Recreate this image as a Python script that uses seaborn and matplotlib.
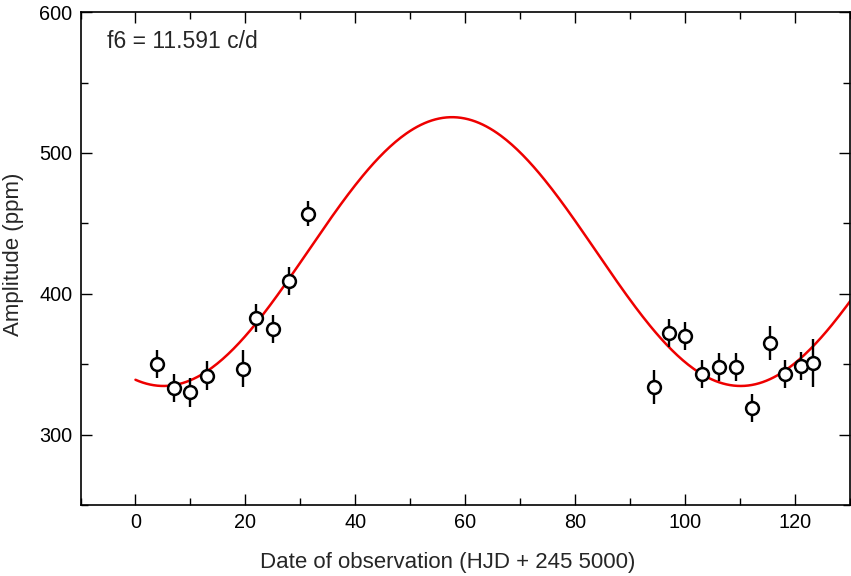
import numpy as np
import pandas as pd
import matplotlib
matplotlib.use("Agg")
import matplotlib.pyplot as plt
import seaborn as sns
from matplotlib.ticker import MultipleLocator

# observed amplitudes of f6
date = [4.0, 7.0, 9.9, 13.0, 19.6, 21.9, 25.0, 27.9, 31.4,
        94.4, 97.1, 100.0, 103.1, 106.1, 109.2, 112.1, 115.4, 118.1, 121.0, 123.2]
amp = [350, 333, 330, 342, 347, 383, 375, 409, 457,
       334, 372, 370, 343, 348, 348, 319, 365, 343, 349, 351]
err = [10, 10, 10, 10, 13, 10, 10, 10, 9,
       12, 10, 10, 10, 10, 10, 10, 12, 10, 10, 17]

# sinusoidal fit
fit_mean = 430.0
fit_amp = 95.4
fit_period = 105.0
fit_tmax = 57.6

df = pd.DataFrame({"date": date, "amp": amp, "err": err})
t = np.linspace(0, 132, 400)
fit = pd.DataFrame({"date": t,
                    "amp": fit_mean + fit_amp * np.cos(2 * np.pi * (t - fit_tmax) / fit_period)})

sns.set_theme(style="ticks")
plt.rcParams["font.family"] = ["Liberation Sans", "DejaVu Sans"]

fig, ax = plt.subplots(figsize=(8.51, 5.76), dpi=100)
fig.subplots_adjust(left=0.0946, right=0.9988, top=0.979, bottom=0.123)

sns.lineplot(data=fit, x="date", y="amp", ax=ax, color="#ee0000", linewidth=1.8, zorder=2)
ax.errorbar(df.date, df.amp, yerr=df.err, fmt="none", ecolor="black", elinewidth=1.7, capsize=0, zorder=3)
sns.scatterplot(data=df, x="date", y="amp", ax=ax, marker="o", s=85, facecolor="white",
                edgecolor="black", linewidth=1.8, zorder=4)

ax.set_xlim(-10, 130)
ax.set_ylim(250, 600)
ax.xaxis.set_major_locator(MultipleLocator(20))
ax.xaxis.set_minor_locator(MultipleLocator(10))
ax.yaxis.set_major_locator(MultipleLocator(100))
ax.yaxis.set_minor_locator(MultipleLocator(50))
ax.tick_params(which="both", direction="in", top=True, right=True, labelsize=14.3,
               colors="black", width=1)
ax.tick_params(which="major", length=8, pad=6)
ax.tick_params(which="minor", length=5)
for s in ax.spines.values():
    s.set_linewidth(1.2)
    s.set_color("black")

ax.set_xlabel("Date of observation (HJD + 245 5000)", fontsize=16)
ax.xaxis.set_label_coords(0.477, -0.095)
ax.set_ylabel("Amplitude (ppm)", fontsize=16)
ax.yaxis.set_label_coords(-0.073, 0.509)
ax.text(0.035, 0.94, "f6 = 11.591 c/d", transform=ax.transAxes, fontsize=16.5, va="center")

fig.savefig("out.png", dpi=100)
